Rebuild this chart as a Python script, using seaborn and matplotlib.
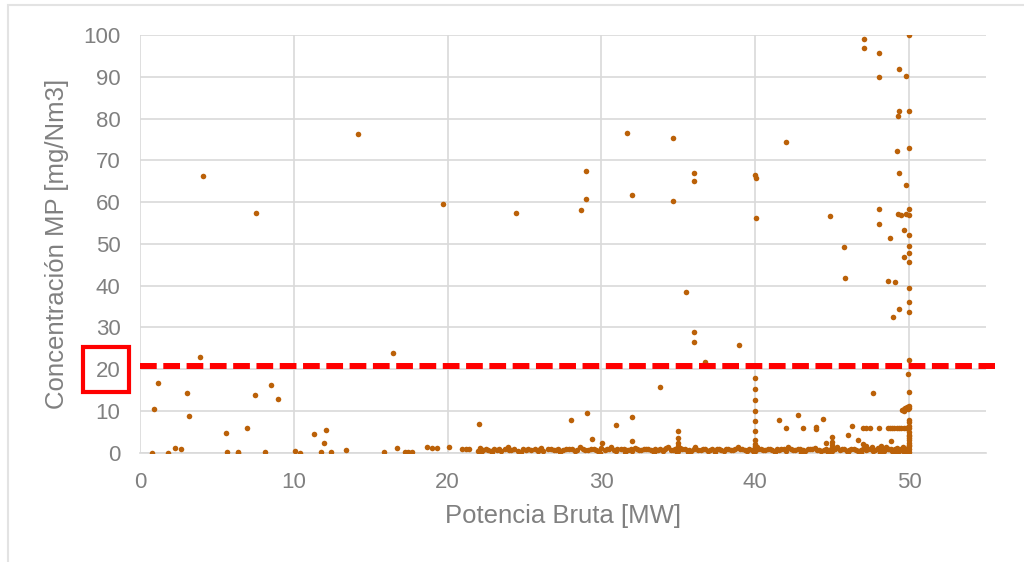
import pandas as pd
import matplotlib.pyplot as plt
import matplotlib.patches as mpatches
import seaborn as sns

# Puntos dispersos (Potencia MW, Concentracion mg/Nm3)
puntos_izq = [
    (0.80, 0.0), (1.80, 0.0), (0.89, 10.5), (1.15, 16.6), (2.28, 1.2), (2.69, 0.9),
    (3.04, 14.2), (3.19, 8.7), (3.93, 23.0), (4.10, 66.2), (5.57, 4.8), (5.66, 0.2),
    (6.40, 0.2), (6.40, 0.0), (6.96, 6.0), (7.46, 13.9), (7.55, 57.5), (8.13, 0.2),
    (8.54, 16.3), (8.96, 12.9), (10.1, 0.3), (10.37, 0.0), (11.32, 4.5), (11.76, 0.2),
    (11.99, 2.4), (12.08, 5.4), (12.41, 0.2), (13.4, 0.6), (14.2, 76.2), (15.87, 0.2),
    (16.44, 23.9), (16.68, 1.1), (17.24, 0.1), (17.42, 0.2), (17.57, 0.0), (17.68, 0.1),
    (18.65, 1.3), (18.98, 1.1), (19.3, 1.1), (19.71, 59.6), (20.12, 1.4), (20.95, 0.9),
    (21.21, 0.9), (21.41, 1.0), (22.06, 6.9),
]

puntos_der = [
    (24.42, 57.5), (28.04, 7.8), (28.69, 58.1), (29.02, 67.5), (29.02, 60.8), (29.04, 9.4),
    (29.37, 3.3), (30.01, 2.4), (30.93, 6.6), (31.66, 76.6), (31.99, 61.8), (31.99, 8.5),
    (31.99, 2.9), (33.8, 15.7), (34.63, 75.4), (34.63, 60.3), (35.0, 5.2), (35.0, 3.6),
    (35.0, 2.4), (35.52, 38.4), (36.02, 67.0), (36.02, 65.0), (36.02, 29.0), (36.02, 26.6),
    (36.75, 21.8), (38.91, 25.9), (40.01, 66.6), (40.06, 65.7), (40.06, 56.3), (40.0, 17.8),
    (40.0, 15.2), (40.0, 12.5), (40.0, 9.9), (40.0, 7.6), (40.0, 5.3), (40.0, 3.0),
    (41.52, 7.8), (42.03, 6.0), (42.03, 74.5), (42.77, 9.1), (43.11, 6.0), (43.98, 6.2),
    (43.98, 5.7), (44.42, 8.1), (44.6, 2.4), (44.89, 56.6), (45.0, 3.8), (45.0, 2.6),
    (45.74, 49.3), (45.82, 41.8), (46.05, 4.2), (46.3, 6.4), (46.7, 3.0), (47.0, 2.2),
    (47.02, 6.0), (47.06, 99.0), (47.06, 96.9), (47.2, 6.0), (47.45, 6.0), (47.67, 14.2),
    (48.04, 95.7), (48.04, 89.9), (48.04, 58.4), (48.04, 54.8), (48.04, 6.0), (48.6, 41.1),
    (48.6, 5.8), (48.78, 51.5), (48.85, 2.9), (48.95, 32.6), (49.1, 40.9), (49.19, 72.3),
    (49.27, 80.5), (49.27, 57.2), (49.36, 91.8), (49.36, 81.8), (49.36, 67.0), (49.36, 34.5),
    (49.45, 56.9), (49.68, 53.3), (49.68, 46.9), (49.77, 90.3), (49.77, 64.2), (49.82, 57.2),
    (50.0, 99.9), (50.0, 81.8), (50.0, 72.9), (50.0, 58.4), (50.0, 56.9), (50.0, 52.0),
    (50.0, 49.6), (50.0, 47.8), (50.0, 45.7), (50.0, 39.4), (50.0, 36.0), (50.0, 33.6),
    (50.0, 22.1), (49.95, 18.8), (50.0, 14.5), (50.0, 7.3), (50.0, 4.3), (50.0, 3.5),
    (50.0, 2.3), (48.75, 5.9), (48.9, 5.8), (49.05, 5.9), (49.2, 5.9), (49.35, 5.8),
    (49.5, 5.8), (49.65, 5.9), (49.8, 5.9), (49.9, 5.8),
    (50.0, 6.0), (50.0, 7.8), (50.0, 6.5), (50.0, 4.9), (50.0, 4.0),
    (50.0, 3.0), (50.0, 1.9), (49.55, 10.2), (49.65, 10.5), (49.75, 10.7), (49.85, 10.9),
    (49.95, 11.0), (50.0, 10.6), (50.0, 11.2), (49.7, 10.0), (49.9, 10.4),
    (40.0, 2.0), (40.0, 1.5), (35.0, 1.6), (45.0, 1.8), (47.2, 1.6), (48.2, 1.5),
]

# Banda densa cerca de 0-1 mg/Nm3 entre 22 y 50 MW
banda_x = [
    22.0, 22.1, 22.3, 22.5, 22.8, 23.0, 23.2, 23.5, 23.7, 24.0,
    24.3, 24.6, 24.9, 25.1, 25.4, 25.7, 26.0, 26.2, 26.5, 26.9,
    27.2, 27.5, 27.9, 28.1, 28.4, 28.8, 29.1, 29.5, 29.8, 30.0,
    30.2, 30.5, 30.8, 31.0, 31.3, 31.6, 31.9, 32.0, 32.3, 32.6,
    32.9, 33.2, 33.5, 33.8, 34.0, 34.2, 34.5, 34.8, 35.0, 35.1,
    35.4, 35.7, 36.0, 36.3, 36.6, 36.9, 37.2, 37.5, 37.8, 38.1,
    38.4, 38.7, 39.0, 39.3, 39.6, 39.8, 40.0, 40.0, 40.2, 40.5,
    40.8, 41.1, 41.4, 41.7, 42.0, 42.3, 42.6, 42.9, 43.1, 43.4,
    43.7, 44.0, 44.3, 44.6, 44.9, 45.0, 45.2, 45.5, 45.8, 46.1,
    46.4, 46.7, 47.0, 47.2, 47.5, 47.8, 48.0, 48.2, 48.4, 48.6,
    48.8, 48.9, 49.1, 49.2, 49.4, 49.5, 49.6, 49.7, 49.8, 49.9,
    50.0, 50.0, 50.0,
]
banda_y = [
    0.3, 1.1, 0.6, 0.9, 0.4, 0.8, 0.7, 0.5, 0.9, 0.6,
    0.8, 0.5, 1.0, 0.7, 0.6, 0.9, 0.8, 0.5, 1.0, 0.7,
    0.9, 0.6, 0.8, 1.0, 0.7, 0.9, 0.6, 0.8, 0.5, 1.2,
    0.7, 0.9, 0.6, 0.8, 1.0, 0.7, 0.9, 0.4, 0.8, 0.6,
    0.9, 0.7, 1.0, 0.8, 0.5, 1.1, 0.7, 0.9, 0.3, 1.2,
    0.8, 0.6, 1.0, 0.7, 0.9, 0.5, 0.8, 1.0, 0.7, 0.9,
    0.6, 0.8, 1.0, 0.7, 0.9, 0.6, 0.3, 1.1, 0.8, 0.7,
    0.9, 0.6, 1.0, 0.8, 0.5, 0.9, 0.7, 1.0, 0.6, 0.8,
    0.9, 0.7, 0.5, 1.0, 0.8, 0.4, 0.9, 0.7, 1.0, 0.6,
    0.8, 0.5, 1.0, 0.7, 0.9, 0.6, 1.1, 0.8, 0.5, 0.9,
    1.0, 0.4, 0.8, 1.1, 0.6, 0.9, 0.3, 1.0, 0.7, 1.2,
    0.2, 0.8, 1.5,
]

# Segunda capa de la banda (puntos algo por debajo / encima)
banda2_x = [
    22.2, 22.9, 23.9, 24.8, 26.1, 27.3, 28.6, 29.9, 30.6, 31.5,
    32.2, 33.4, 34.3, 34.9, 35.6, 36.1, 37.4, 38.9, 39.9, 40.1,
    41.3, 42.1, 43.0, 43.9, 44.7, 45.3, 46.0, 46.9, 47.6, 48.1,
    48.5, 49.0, 49.3, 49.6, 49.9,
]
banda2_y = [
    0.0, 0.2, 1.3, 0.1, 1.2, 0.2, 1.3, 0.0, 1.3, 0.1,
    1.2, 0.0, 1.3, 0.0, 0.2, 1.4, 0.1, 1.3, 0.0, 1.4,
    0.1, 1.3, 0.0, 1.2, 0.0, 1.4, 0.1, 0.0, 1.3, 0.0,
    1.4, 0.0, 0.1, 1.4, 0.0,
]

# Tercera capa, rellena huecos de la banda
banda3_x = [
    22.65, 23.35, 24.15, 25.25, 25.85, 26.7, 27.05, 27.7, 28.25, 28.95,
    29.3, 29.65, 30.35, 30.95, 31.45, 31.75, 32.45, 32.75, 33.05, 33.65,
    34.1, 34.65, 35.25, 35.85, 36.45, 36.75, 37.05, 37.65, 37.95, 38.25,
    38.55, 39.15, 39.45, 40.35, 40.65, 40.95, 41.55, 41.85, 42.45, 42.75,
    43.25, 43.55, 44.15, 44.45, 45.65, 45.95, 46.25, 46.55, 46.85, 47.35,
    47.65, 47.95, 48.3, 48.7, 49.15, 49.45, 49.75, 49.95,
]
banda3_y = [
    0.7, 0.9, 0.6, 0.8, 0.5, 0.8, 0.6, 0.9, 0.5, 0.7,
    1.0, 0.6, 0.8, 0.5, 0.9, 0.7, 0.6, 1.0, 0.8, 0.6,
    0.9, 0.6, 0.8, 0.5, 0.7, 0.9, 0.6, 0.8, 0.5, 0.9,
    0.7, 0.8, 0.5, 0.9, 0.6, 0.8, 0.7, 0.9, 0.6, 0.8,
    0.5, 0.9, 0.7, 0.6, 0.8, 0.5, 0.9, 0.7, 0.6, 0.8,
    0.5, 0.9, 0.7, 0.8, 0.6, 0.9, 0.5, 0.8,
]

limite_mp = 20.7
x_ticks = [0, 10, 20, 30, 40, 50]
y_ticks = [0, 10, 20, 30, 40, 50, 60, 70, 80, 90, 100]

pot = [p[0] for p in puntos_izq + puntos_der] + banda_x + banda2_x + banda3_x
conc = [p[1] for p in puntos_izq + puntos_der] + banda_y + banda2_y + banda3_y
df = pd.DataFrame({"potencia": pot, "concentracion": conc})

sns.set_theme(style="white")
plt.rcParams["font.family"] = ["Liberation Sans", "DejaVu Sans"]

gris_txt = "#808080"
gris_linea = "#d9d9d9"

fig = plt.figure(figsize=(10.24, 5.62), dpi=100)
ax = fig.add_axes([140 / 1024, 1 - 452.7 / 562, (986 - 140) / 1024, (452.7 - 35) / 562])

sns.scatterplot(
    data=df, x="potencia", y="concentracion", ax=ax,
    color="#BB6108", s=16, linewidth=0, zorder=3,
)

ax.set_xlim(0, 55)
ax.set_ylim(0, 100)
ax.set_xticks(x_ticks)
ax.set_yticks(y_ticks)
ax.grid(True, color=gris_linea, linewidth=1.2)
ax.set_axisbelow(True)
for side in ["top", "right", "left"]:
    ax.spines[side].set_visible(False)
ax.spines["bottom"].set_color(gris_linea)
ax.spines["bottom"].set_linewidth(1.2)
ax.tick_params(axis="both", length=0, labelsize=16, labelcolor=gris_txt)
ax.tick_params(axis="x", pad=14)
ax.tick_params(axis="y", pad=14)
ax.set_xlabel("Potencia Bruta [MW]", fontsize=18.5, color=gris_txt, labelpad=8)
ax.set_ylabel("Concentración MP [mg/Nm3]", fontsize=18.5, color=gris_txt, labelpad=10)

# Linea limite roja discontinua
ax.plot([0, 55.6], [limite_mp, limite_mp], color="#FF0000", linewidth=4.3,
        linestyle=(0, (2.8, 1.1)), clip_on=False, zorder=4)

# Recuadro rojo sobre la etiqueta "20"
fig.patches.append(mpatches.Rectangle(
    (83 / 1024, 1 - 392 / 562), 46 / 1024, 45.3 / 562,
    transform=fig.transFigure, fill=False, edgecolor="#FF0000", linewidth=3))

# Marco exterior del grafico
fig.patches.append(mpatches.Rectangle(
    (8 / 1024, -0.05), 1.1, 1 - 5 / 562 + 0.05,
    transform=fig.transFigure, fill=False, edgecolor="#e3e3e3", linewidth=1.5))

fig.savefig("out.png", dpi=100)
